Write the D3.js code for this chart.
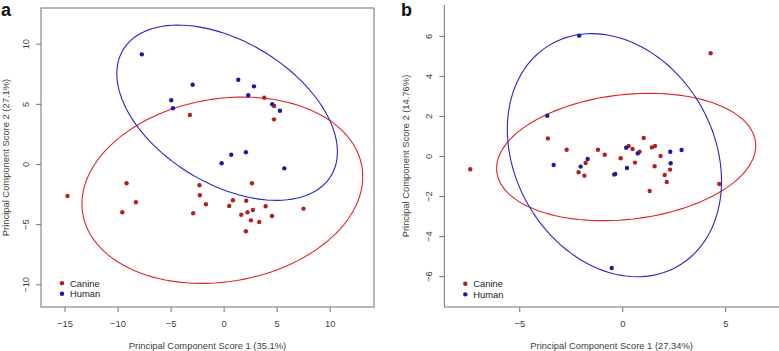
<!DOCTYPE html>
<html>
<head>
<meta charset="utf-8">
<script src="https://cdn.jsdelivr.net/npm/d3@7"></script>
<style>
  body { margin: 0; background: #fff; }
  svg text { font-family: "Liberation Sans", Arial, sans-serif; }
</style>
</head>
<body>
<div id="chart"></div>
<script>
// panel a scores (PC1, PC2)
const canineA = [[-3.18, 4.07], [3.83, 5.51], [4.77, 4.82], [4.75, 3.71], [-14.72, -2.66],
    [-9.15, -1.60], [-8.27, -3.18], [-9.55, -4.01], [-2.87, -4.09], [-2.28, -1.77],
    [-2.24, -2.60], [-1.67, -3.35], [2.67, -1.60], [0.88, -3.01], [0.53, -3.49],
    [2.13, -3.05], [2.25, -4.01], [2.76, -3.82], [1.66, -4.21], [2.58, -4.68],
    [3.36, -4.82], [3.96, -3.51], [4.56, -4.32], [2.10, -5.59], [7.53, -3.71]];
const humanA = [[-7.71, 9.11], [-2.92, 6.59], [-4.94, 5.29], [-4.78, 4.63], [1.38, 7.0],
    [2.86, 6.45], [2.32, 5.71], [4.58, 4.96], [5.31, 4.43], [-0.19, 0.06],
    [0.72, 0.77], [2.10, 0.97], [5.72, -0.36]];

// panel b scores
const canineB = [[4.29, 5.13], [-7.38, -0.66], [-3.61, 0.88], [-2.70, 0.31], [-1.78, -0.35],
    [-2.12, -0.81], [-1.84, -0.98], [-1.18, 0.31], [-0.85, 0.06], [-0.08, -0.11],
    [-0.40, -0.93], [0.62, -0.33], [0.31, 0.50], [0.50, 0.35], [0.84, 0.21],
    [1.04, 0.90], [1.44, 0.43], [1.59, 0.50], [1.86, 0.0], [1.57, -0.51],
    [2.06, -0.95], [2.32, -0.68], [2.16, -1.30], [1.33, -1.75], [4.71, -1.40]];
const humanB = [[-2.09, 6.01], [-3.64, 2.01], [-3.33, -0.45], [-1.68, -0.15], [-2.02, -0.53],
    [-0.34, -0.90], [0.23, -0.60], [0.19, 0.41], [0.75, 0.13], [2.33, 0.21],
    [2.35, -0.36], [2.88, 0.30], [-0.51, -5.59]];

// ellipses: centre x, centre y, half-width x, half-height y, correlation
const ellipseCanineA = [-0.12, -2.18, 13.24, 7.74, 0.146];
const ellipseHumanA = [0.33, 4.26, 10.4, 7.28, -0.446];
const ellipseCanineB = [0.19, -0.05, 6.29, 3.18, 0.178];
const ellipseHumanB = [-0.38, 0.04, 5.20, 6.07, -0.213];

const xTicksA = [-15, -10, -5, 0, 5, 10];
const yTicksA = [-10, -5, 0, 5, 10];
const xTicksB = [-5, 0, 5];
const yTicksB = [-6, -4, -2, 0, 2, 4, 6];

const groups = ["Canine", "Human"];

const W = 779, H = 351;
const pointColor = { Canine: "#b3201f", Human: "#1a1aa6" };
const lineColor = { Canine: "#e02424", Human: "#2626c8" };
const axisColor = "#707070";
const textColor = "#404040";
const fs = "9.4px";

const svg = d3.select("#chart").append("svg")
    .attr("width", W)
    .attr("height", H);

function ellipsePath(e, x, y) {
    const [cx, cy, rx, ry, rho] = e;
    const pts = d3.range(0, 361, 3).map(a => {
        const t = a * Math.PI / 180;
        return [x(cx + rx * Math.cos(t)),
                y(cy + ry * (rho * Math.cos(t) + Math.sqrt(1 - rho * rho) * Math.sin(t)))];
    });
    return d3.line()(pts);
}

function drawPanel(cfg) {
    const g = svg.append("g");
    const x = d3.scaleLinear().domain(cfg.xDomain).range([cfg.left, cfg.right]);
    const y = d3.scaleLinear().domain(cfg.yDomain).range([cfg.bottom, cfg.top]);

    // frame
    if (cfg.box) {
        g.append("rect")
            .attr("x", cfg.left).attr("y", cfg.top)
            .attr("width", cfg.right - cfg.left).attr("height", cfg.bottom - cfg.top)
            .attr("fill", "none").attr("stroke", axisColor).attr("stroke-width", 1);
    } else {
        g.append("path")
            .attr("d", `M${cfg.left},${cfg.top}V${cfg.bottom}H${cfg.right}`)
            .attr("fill", "none").attr("stroke", axisColor).attr("stroke-width", 1);
    }

    // x axis
    const xAxis = g.append("g")
        .attr("transform", `translate(0,${cfg.bottom})`)
        .call(d3.axisBottom(x).tickValues(cfg.xTicks).tickSize(5).tickPadding(8));
    xAxis.select(".domain").remove();
    xAxis.selectAll("line").attr("stroke", axisColor);
    xAxis.selectAll("text")
        .attr("fill", textColor)
        .style("font-size", fs)
        .style("font-family", "Liberation Sans, Arial, sans-serif");

    // y axis, labels rotated like R
    const yAxis = g.append("g")
        .attr("transform", `translate(${cfg.left},0)`)
        .call(d3.axisLeft(y).tickValues(cfg.yTicks).tickSize(5));
    yAxis.select(".domain").remove();
    yAxis.selectAll("line").attr("stroke", axisColor);
    yAxis.selectAll("text")
        .attr("fill", textColor)
        .attr("x", null).attr("dy", null)
        .attr("text-anchor", "middle")
        .attr("dominant-baseline", "central")
        .attr("transform", "translate(-16,0) rotate(-90)")
        .style("font-size", fs)
        .style("font-family", "Liberation Sans, Arial, sans-serif");

    // ellipses
    cfg.ellipses.forEach(([name, e]) => {
        g.append("path")
            .attr("d", ellipsePath(e, x, y))
            .attr("fill", "none")
            .attr("stroke", lineColor[name])
            .attr("stroke-width", 1.1);
    });

    // points
    cfg.series.forEach(([name, pts]) => {
        g.selectAll(null)
            .data(pts)
            .join("circle")
            .attr("cx", d => x(d[0]))
            .attr("cy", d => y(d[1]))
            .attr("r", 2.2)
            .attr("fill", pointColor[name]);
    });

    // axis titles
    g.append("text")
        .attr("x", (cfg.left + cfg.right) / 2)
        .attr("y", 349)
        .attr("text-anchor", "middle")
        .attr("fill", textColor)
        .style("font-size", fs)
        .text(cfg.xLabel);

    g.append("text")
        .attr("transform", `translate(${cfg.yLabelX},${(cfg.top + cfg.bottom) / 2}) rotate(-90)`)
        .attr("text-anchor", "middle")
        .attr("fill", textColor)
        .style("font-size", fs)
        .text(cfg.yLabel);

    // legend
    const leg = g.append("g");
    groups.forEach((name, i) => {
        const ly = y(cfg.legendY) + i * 10.6;
        leg.append("circle")
            .attr("cx", cfg.legendX).attr("cy", ly)
            .attr("r", 2.2).attr("fill", pointColor[name]);
        leg.append("text")
            .attr("x", cfg.legendX + 8).attr("y", ly)
            .attr("dominant-baseline", "central")
            .attr("fill", "#222")
            .style("font-size", fs)
            .text(name);
    });

    // panel letter
    svg.append("text")
        .attr("x", cfg.letterX).attr("y", 16)
        .attr("font-weight", "bold")
        .attr("fill", "#111")
        .style("font-size", "18px")
        .text(cfg.letter);
}

drawPanel({
    letter: "a", letterX: 1,
    left: 41, right: 374, top: 8, bottom: 307,
    box: true,
    xDomain: [-17.22, 14.18], yDomain: [-11.88, 12.96],
    xTicks: xTicksA, yTicks: yTicksA,
    ellipses: [["Canine", ellipseCanineA], ["Human", ellipseHumanA]],
    series: [["Canine", canineA], ["Human", humanA]],
    xLabel: "Principal Component Score 1 (35.1%)",
    yLabel: "Principal Component Score 2 (27.1%)",
    yLabelX: 8.5,
    legendX: 62, legendY: -9.9
});

drawPanel({
    letter: "b", letterX: 401,
    left: 444.3, right: 779, top: 5, bottom: 307,
    box: false,
    xDomain: [-8.64, 7.61], yDomain: [-7.54, 7.54],
    xTicks: xTicksB, yTicks: yTicksB,
    ellipses: [["Canine", ellipseCanineB], ["Human", ellipseHumanB]],
    series: [["Canine", canineB], ["Human", humanB]],
    xLabel: "Principal Component Score 1 (27.34%)",
    yLabel: "Principal Component Score 2 (14.76%)",
    yLabelX: 409,
    legendX: 465.3, legendY: -6.38
});
</script>
</body>
</html>
